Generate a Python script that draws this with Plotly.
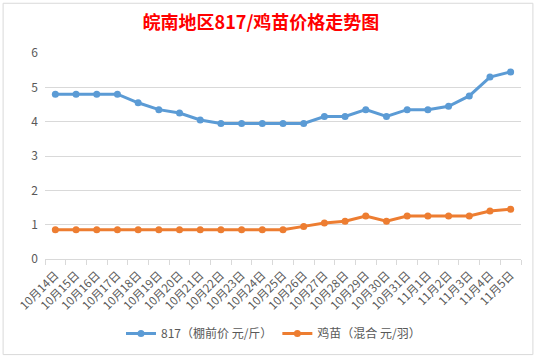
import plotly.graph_objects as go

dates = ["10月14日", "10月15日", "10月16日", "10月17日", "10月18日", "10月19日",
         "10月20日", "10月21日", "10月22日", "10月23日", "10月24日", "10月25日",
         "10月26日", "10月27日", "10月28日", "10月29日", "10月30日", "10月31日",
         "11月1日", "11月2日", "11月3日", "11月4日", "11月5日"]
price_817 = [4.8, 4.8, 4.8, 4.8, 4.55, 4.35, 4.25, 4.05, 3.95, 3.95, 3.95, 3.95,
             3.95, 4.15, 4.15, 4.35, 4.15, 4.35, 4.35, 4.45, 4.75, 5.3, 5.45]
price_chick = [0.85, 0.85, 0.85, 0.85, 0.85, 0.85, 0.85, 0.85, 0.85, 0.85, 0.85, 0.85,
               0.95, 1.05, 1.1, 1.25, 1.1, 1.25, 1.25, 1.25, 1.25, 1.4, 1.45]
name_817 = "817（棚前价 元/斤）"
name_chick = "鸡苗（混合 元/羽）"
title_text = "皖南地区817/鸡苗价格走势图"

FONT = "Noto Sans CJK SC, Noto Sans, sans-serif"

fig = go.Figure()
fig.add_trace(go.Scatter(x=dates, y=price_817, name=name_817, mode="lines+markers",
                         line=dict(color="#5B9BD5", width=3),
                         marker=dict(color="#5B9BD5", size=7)))
fig.add_trace(go.Scatter(x=dates, y=price_chick, name=name_chick, mode="lines+markers",
                         line=dict(color="#ED7D31", width=3),
                         marker=dict(color="#ED7D31", size=7)))

fig.update_layout(
    width=538, height=358,
    margin=dict(l=45, r=17, t=53, b=98),
    paper_bgcolor="white", plot_bgcolor="white",
    font=dict(family=FONT, color="#595959", size=11),
    title=dict(text="<b>" + title_text + "</b>", x=0.485, xanchor="center",
               y=0.936, yanchor="middle", xref="container", yref="container",
               font=dict(family=FONT, size=18, color="#FF0000")),
    showlegend=True,
    legend=dict(orientation="h", x=0.48, xanchor="center", y=-0.355, yanchor="middle",
                font=dict(family=FONT, size=12, color="#595959"), itemwidth=30,
                bgcolor="rgba(0,0,0,0)"),
    xaxis=dict(type="category", tickangle=-45, showgrid=False, automargin=False,
               showline=True, linecolor="#d9d9d9", linewidth=1,
               ticks="outside", ticklen=5, tickcolor="#d9d9d9", tickson="boundaries",
               ticklabelstandoff=4,
               tickfont=dict(family=FONT, size=11.5, color="#595959"),
               range=[-0.5, len(dates) - 0.5]),
    yaxis=dict(range=[0, 6], dtick=1, showgrid=True, gridcolor="#d9d9d9", gridwidth=1,
               zeroline=False, showline=False, ticks="", automargin=False,
               ticklabelstandoff=6,
               tickfont=dict(family=FONT, size=12, color="#595959")),
    shapes=[dict(type="rect", xref="paper", yref="paper",
                 x0=-0.088, x1=1.025, y0=-0.464, y1=1.2415,
                 line=dict(color="#d9d9d9", width=1), layer="below")],
)

fig.write_html("out.html", config={"displayModeBar": False},
               post_script="document.body.style.margin='0';document.body.style.overflow='hidden';")
